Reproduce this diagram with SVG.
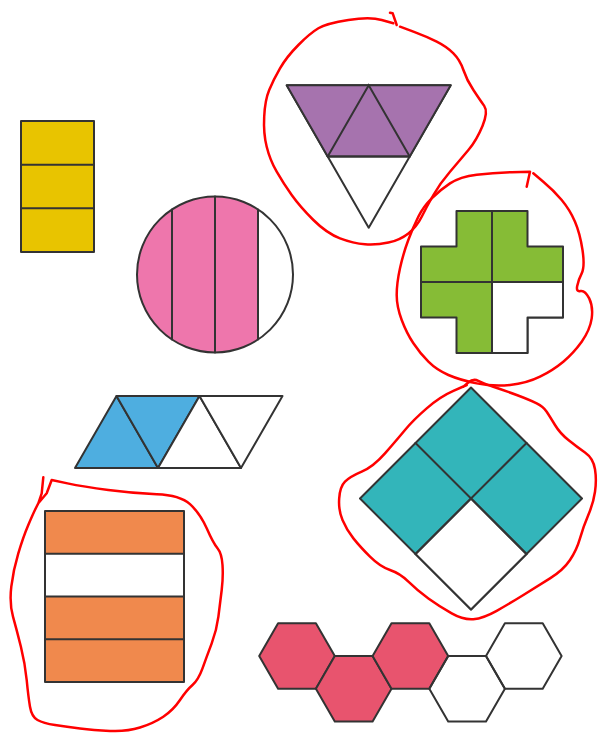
<svg xmlns="http://www.w3.org/2000/svg" width="598" height="733" viewBox="0 0 598 733">
<style>
.s{stroke:#333;stroke-width:2;stroke-linejoin:round;stroke-linecap:round}
.ln{fill:none;stroke:#333;stroke-width:2;stroke-linecap:round}
.red{fill:none;stroke:#FF0000;stroke-width:2.5;stroke-linejoin:round;stroke-linecap:round}
</style>
<defs>
<path id="hex" d="M-37.8,0 L-18.9,-32.7 L18.9,-32.7 L37.8,0 L18.9,32.7 L-18.9,32.7Z"/>
<clipPath id="cc"><circle cx="215" cy="274.5" r="78"/></clipPath>
</defs>
<rect width="598" height="733" fill="#fff"/>

<g id="yellow-rect">
<rect class="s" x="21" y="121" width="73" height="131" fill="#E8C400"/>
<line class="ln" x1="21" y1="164.7" x2="94" y2="164.7"/>
<line class="ln" x1="21" y1="208.3" x2="94" y2="208.3"/>
</g>

<g id="pink-circle">
<circle cx="215" cy="274.5" r="78" fill="#fff"/>
<rect x="137" y="196" width="121" height="158" fill="#EE76AC" clip-path="url(#cc)"/>
<line class="ln" x1="172" y1="209.4" x2="172" y2="339.6"/>
<line class="ln" x1="215" y1="196.5" x2="215" y2="352.5"/>
<line class="ln" x1="258" y1="209.4" x2="258" y2="339.6"/>
<circle cx="215" cy="274.5" r="78" fill="none" stroke="#333" stroke-width="2"/>
</g>

<g id="purple-triangle">
<polygon class="s" points="286.7,85.3 450.7,85.3 368.7,227.7" fill="#fff"/>
<polygon class="s" points="286.7,85.3 450.7,85.3 409.7,156.5 327.7,156.5" fill="#A673AE"/>
<polyline class="ln" points="327.7,156.5 368.7,85.3 409.7,156.5"/>
<line class="ln" x1="327.7" y1="156.5" x2="409.7" y2="156.5"/>
</g>

<g id="green-cross">
<path class="s" fill="#86BC36" d="M456.5,211 L527.5,211 L527.5,246.5 L563,246.5 L563,317.5 L527.5,317.5 L527.5,353 L456.5,353 L456.5,317.5 L421,317.5 L421,246.5 L456.5,246.5Z"/>
<path class="s" fill="#fff" d="M492,282 L563,282 L563,317.5 L527.5,317.5 L527.5,353 L492,353Z"/>
<line class="ln" x1="492" y1="211" x2="492" y2="353"/>
<line class="ln" x1="421" y1="282" x2="563" y2="282"/>
</g>

<g id="blue-parallelogram">
<polygon class="s" points="75,468 116.5,396 158,468" fill="#4EAEE0"/>
<polygon class="s" points="116.5,396 199.5,396 158,468" fill="#4EAEE0"/>
<polygon class="s" points="158,468 199.5,396 241,468" fill="#fff"/>
<polygon class="s" points="199.5,396 282.5,396 241,468" fill="#fff"/>
</g>

<g id="teal-diamond">
<polygon class="s" points="471,387.5 582,498.5 471,609.5 360,498.5" fill="#33B5BA"/>
<polygon class="s" points="471,498.5 526.5,554 471,609.5 415.5,554" fill="#fff"/>
<line class="ln" x1="415.5" y1="443" x2="526.5" y2="554"/>
<line class="ln" x1="526.5" y1="443" x2="415.5" y2="554"/>
</g>

<g id="orange-rect">
<rect class="s" x="45" y="511" width="139" height="171" fill="#F0894D"/>
<rect class="s" x="45" y="553.75" width="139" height="42.75" fill="#fff"/>
<line class="ln" x1="45" y1="639.25" x2="184" y2="639.25"/>
</g>

<g id="hexagons">
<use href="#hex" x="297" y="656" class="s" fill="#E8546E"/>
<use href="#hex" x="353.7" y="688.7" class="s" fill="#E8546E"/>
<use href="#hex" x="410.4" y="656" class="s" fill="#E8546E"/>
<use href="#hex" x="467.1" y="688.7" class="s" fill="none"/>
<use href="#hex" x="523.8" y="656" class="s" fill="none"/>
</g>

<g id="red-annotations">
<path class="red" d="M393.3,23.3 L381.7,20 Q370,16.7 348.4,20 Q326.7,23.3 318.4,28.3 Q310,33.3 298.4,45 Q286.7,56.7 280,68.4 Q273.3,80 269.2,90 Q265,100 264.2,116.7 Q263.3,133.3 266.7,146.7 Q270,160 276.7,171.7 Q283.3,183.3 291.7,195 Q300,206.7 313.4,220 Q326.7,233.3 340,238.3 Q353.3,243.3 365,244.2 Q376.7,245 388.4,242.5 Q400,240 408.4,233.4 Q416.7,226.7 421.7,216.7 Q426.7,206.7 433.4,195 Q440,183.3 450,171.7 Q460,160 468.4,150 Q476.7,140 482.5,125.9 Q488.3,111.7 484.2,105.9 Q480,100 473.4,90 Q466.7,80 463.4,70 Q460,60 453.4,53.4 Q446.7,46.7 436.7,41.7 Q426.7,36.7 413.4,31.7 L400,26.7"/>
<polyline class="red" points="390,12.7 392.7,13.3 396.7,25"/>
<path class="red" d="M526.7,186.7 L530,171.7 L511.7,172.2 Q493.3,172.7 476.7,174.7 Q460,176.7 450,183.4 Q440,190 431.7,198.4 Q423.3,206.7 418.3,216.7 Q413.3,226.7 408.3,240 Q403.3,253.3 400,268.3 Q396.7,283.3 396.7,295 Q396.7,306.7 401.7,320 Q406.7,333.3 413.4,343.3 Q420,353.3 428.4,361.7 Q436.7,370 448.4,375 Q460,380 476.7,383.4 Q493.3,386.7 510,385 Q526.7,383.3 540,376.7 Q553.3,370 563.3,361.7 Q573.3,353.3 581.7,341.7 Q590,330 591.7,318.4 Q593.3,306.7 589.2,298.4 Q585,290 580.5,291 Q576,292 577.2,286 Q578.3,280 581.7,273.4 Q585,266.7 582.5,250 Q580,233.3 575,221.7 Q570,210 561.7,200 Q553.3,190 543.3,181.7 L533.3,173.3"/>
<path class="red" d="M466.7,385 L453.4,390.9 Q440,396.7 426.7,408.4 Q413.3,420 405,430 Q396.7,440 385,453.4 Q373.3,466.7 361.7,471.7 Q350,476.7 345,481.7 Q340,486.7 339.2,498.4 Q338.3,510 342.5,520 Q346.7,530 353.4,538.4 Q360,546.7 370,556.7 Q380,566.7 390,570 Q400,573.3 408.4,581.7 Q416.7,590 428.4,598.4 Q440,606.7 451.7,613.4 Q463.3,620 473.3,619.2 Q483.3,618.3 496.7,610.8 Q510,603.3 523.4,595 Q536.7,586.7 550,578.4 Q563.3,570 570,560 Q576.7,550 580,538.4 Q583.3,526.7 588.3,515 Q593.3,503.3 595,491.7 Q596.7,480 595,469.2 Q593.3,458.3 585,452.5 Q576.7,446.7 568.4,440 Q560,433.3 555,425 Q550,416.7 546.7,411.7 Q543.3,406.7 536.7,403.4 Q530,400 516.7,395 Q503.3,390 493.3,386.7 Q483.3,383.3 478.3,380.8 Q473.3,378.3 468.3,382.5 L463.3,386.7"/>
<path class="red" d="M43.3,477.3 L41.7,493.3 L38.3,503.3 L46.7,493.3 L51.7,480 L67.5,483.4 Q83.3,486.7 108.3,490 Q133.3,493.3 156.7,494.2 Q180,495 190,504.2 Q200,513.3 206.7,528.3 Q213.3,543.3 217.5,548.3 Q221.7,553.3 222.5,565 Q223.3,576.7 221.7,590 Q220,603.3 218.4,616.7 Q216.7,630 211.7,643.4 Q206.7,656.7 202.5,668.4 Q198.3,680 192.5,685 Q186.7,690 180,700 Q173.3,710 163.3,716.7 Q153.3,723.3 140,727.5 Q126.7,731.7 110,730.9 Q93.3,730 80,728.4 Q66.7,726.7 55,725 Q43.3,723.3 37.5,720 Q31.7,716.7 30,706.7 Q28.3,696.7 26.7,680 Q25,663.3 20.9,646.7 Q16.7,630 13,616.7 Q9.3,603.3 11.3,586.7 Q13.3,570 18.3,553.4 Q23.3,536.7 28.3,525 Q33.3,513.3 35.8,508.3 L38.3,503.3"/>
</g>
</svg>
